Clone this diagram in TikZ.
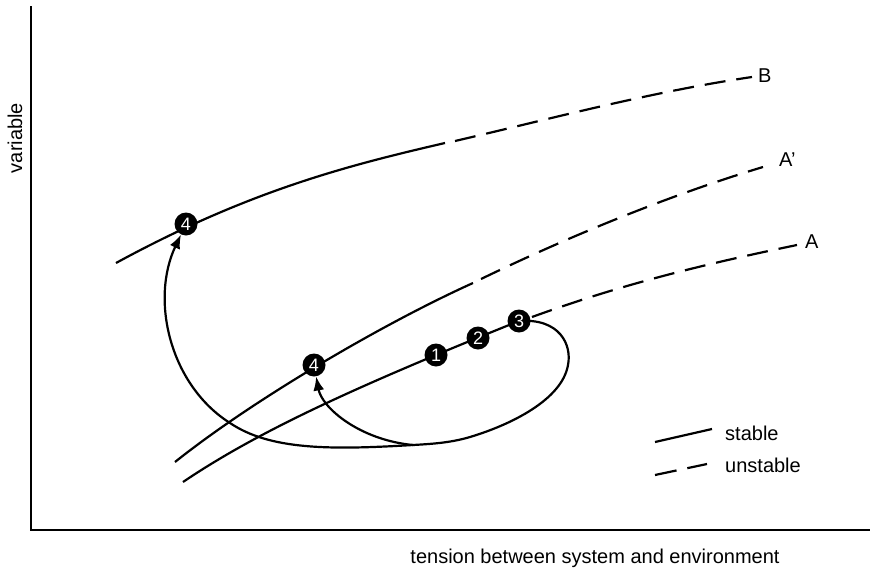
\documentclass[tikz,border=0pt]{standalone}
\usepackage{fontspec}
\setmainfont{Liberation Sans}
\usetikzlibrary{arrows.meta,backgrounds}
\begin{document}
\begin{tikzpicture}[x=1pt,y=-1pt,
  curve/.style={line width=2.2pt,line cap=butt},
  dashcurve/.style={curve,dash pattern=on 21pt off 11pt},
  axis/.style={line width=2.4pt},
  num/.style={circle,fill=black,text=white,minimum size=23pt,inner sep=0pt,font=\fontsize{18}{18}\selectfont},
  lbl/.style={font=\fontsize{20}{22}\selectfont,inner sep=0pt},
  arr/.style={curve,-{Latex[length=14pt,width=11pt]}}
]
\useasboundingbox (0,0) rectangle (870,570);
% axes
\coordinate (ytop) at (31,6);
\coordinate (orig) at (31,530);
\coordinate (xend) at (870,530);
\draw[axis] (ytop) -- (orig) -- (xend);
\node[lbl,rotate=90] (ylab) at (15,138) {variable};
\node[lbl] (xlab) at (595,558) {tension between system and environment};

% numbered nodes
\node[num] (B4) at (186,224) {4};
\node[num] (Ap4) at (314,365) {4};
\node[num] (n1) at (436,355) {1};
\node[num] (n2) at (478,338) {2};
\node[num] (n3) at (519,321) {3};

% curve end points
\coordinate (Bs) at (116,263);
\coordinate (Bm) at (445,143);
\coordinate (Be) at (752,77);
\coordinate (As) at (175,462);
\coordinate (Am) at (473,283);
\coordinate (Ae) at (763,167);
\coordinate (Cs) at (183,482);
\coordinate (Ce) at (797,245);
\coordinate (J) at (413,445);

\node[lbl,anchor=west] (Blab) at (758,76) {B};
\node[lbl,anchor=west] (Aplab) at (779,160) {A’};
\node[lbl,anchor=west] (Alab) at (805,242) {A};

\begin{scope}[on background layer]
% B curve
\draw[curve] (Bs) .. controls (250,190) and (350,165) .. (Bm);
\draw[dashcurve] (Bm) ++(10,-2) .. controls (550,119) and (650,92) .. (Be);
% A' curve
\draw[curve] (As) .. controls (250,402) and (380,325) .. (Am);
\draw[dashcurve] (Am) ++(8,-4) .. controls (570,236) and (670,195) .. (Ae);
% A curve
\draw[curve] (Cs) .. controls (260,430) and (360,385) .. (n3.center);
\draw[dashcurve] (n3.center) ++(13,-4) .. controls (620,285) and (700,265) .. (Ce);
% loop from 3
\draw[curve] (n3.center) .. controls (560,318) and (572,345) .. (568,365)
   .. controls (562,400) and (510,425) .. (470,437)
   .. controls (450,443) and (430,444) .. (J);
\end{scope}
% arrows to the 4s
\draw[arr] (J) .. controls (330,450) and (270,450) .. (230,423)
   .. controls (170,385) and (150,300) .. (B4);
\draw[arr] (J) .. controls (360,440) and (322,408) .. (Ap4);

% legend
\coordinate (l1a) at (655,442);
\coordinate (l1b) at (712,429);
\coordinate (l2a) at (655,475);
\coordinate (l2b) at (707,464);
\draw[curve] (l1a) -- (l1b);
\draw[curve,dash pattern=on 22pt off 11pt] (l2a) -- (l2b);
\node[lbl,anchor=west] (stab) at (725,433) {stable};
\node[lbl,anchor=west] (unstab) at (725,465) {unstable};
\end{tikzpicture}
\end{document}
